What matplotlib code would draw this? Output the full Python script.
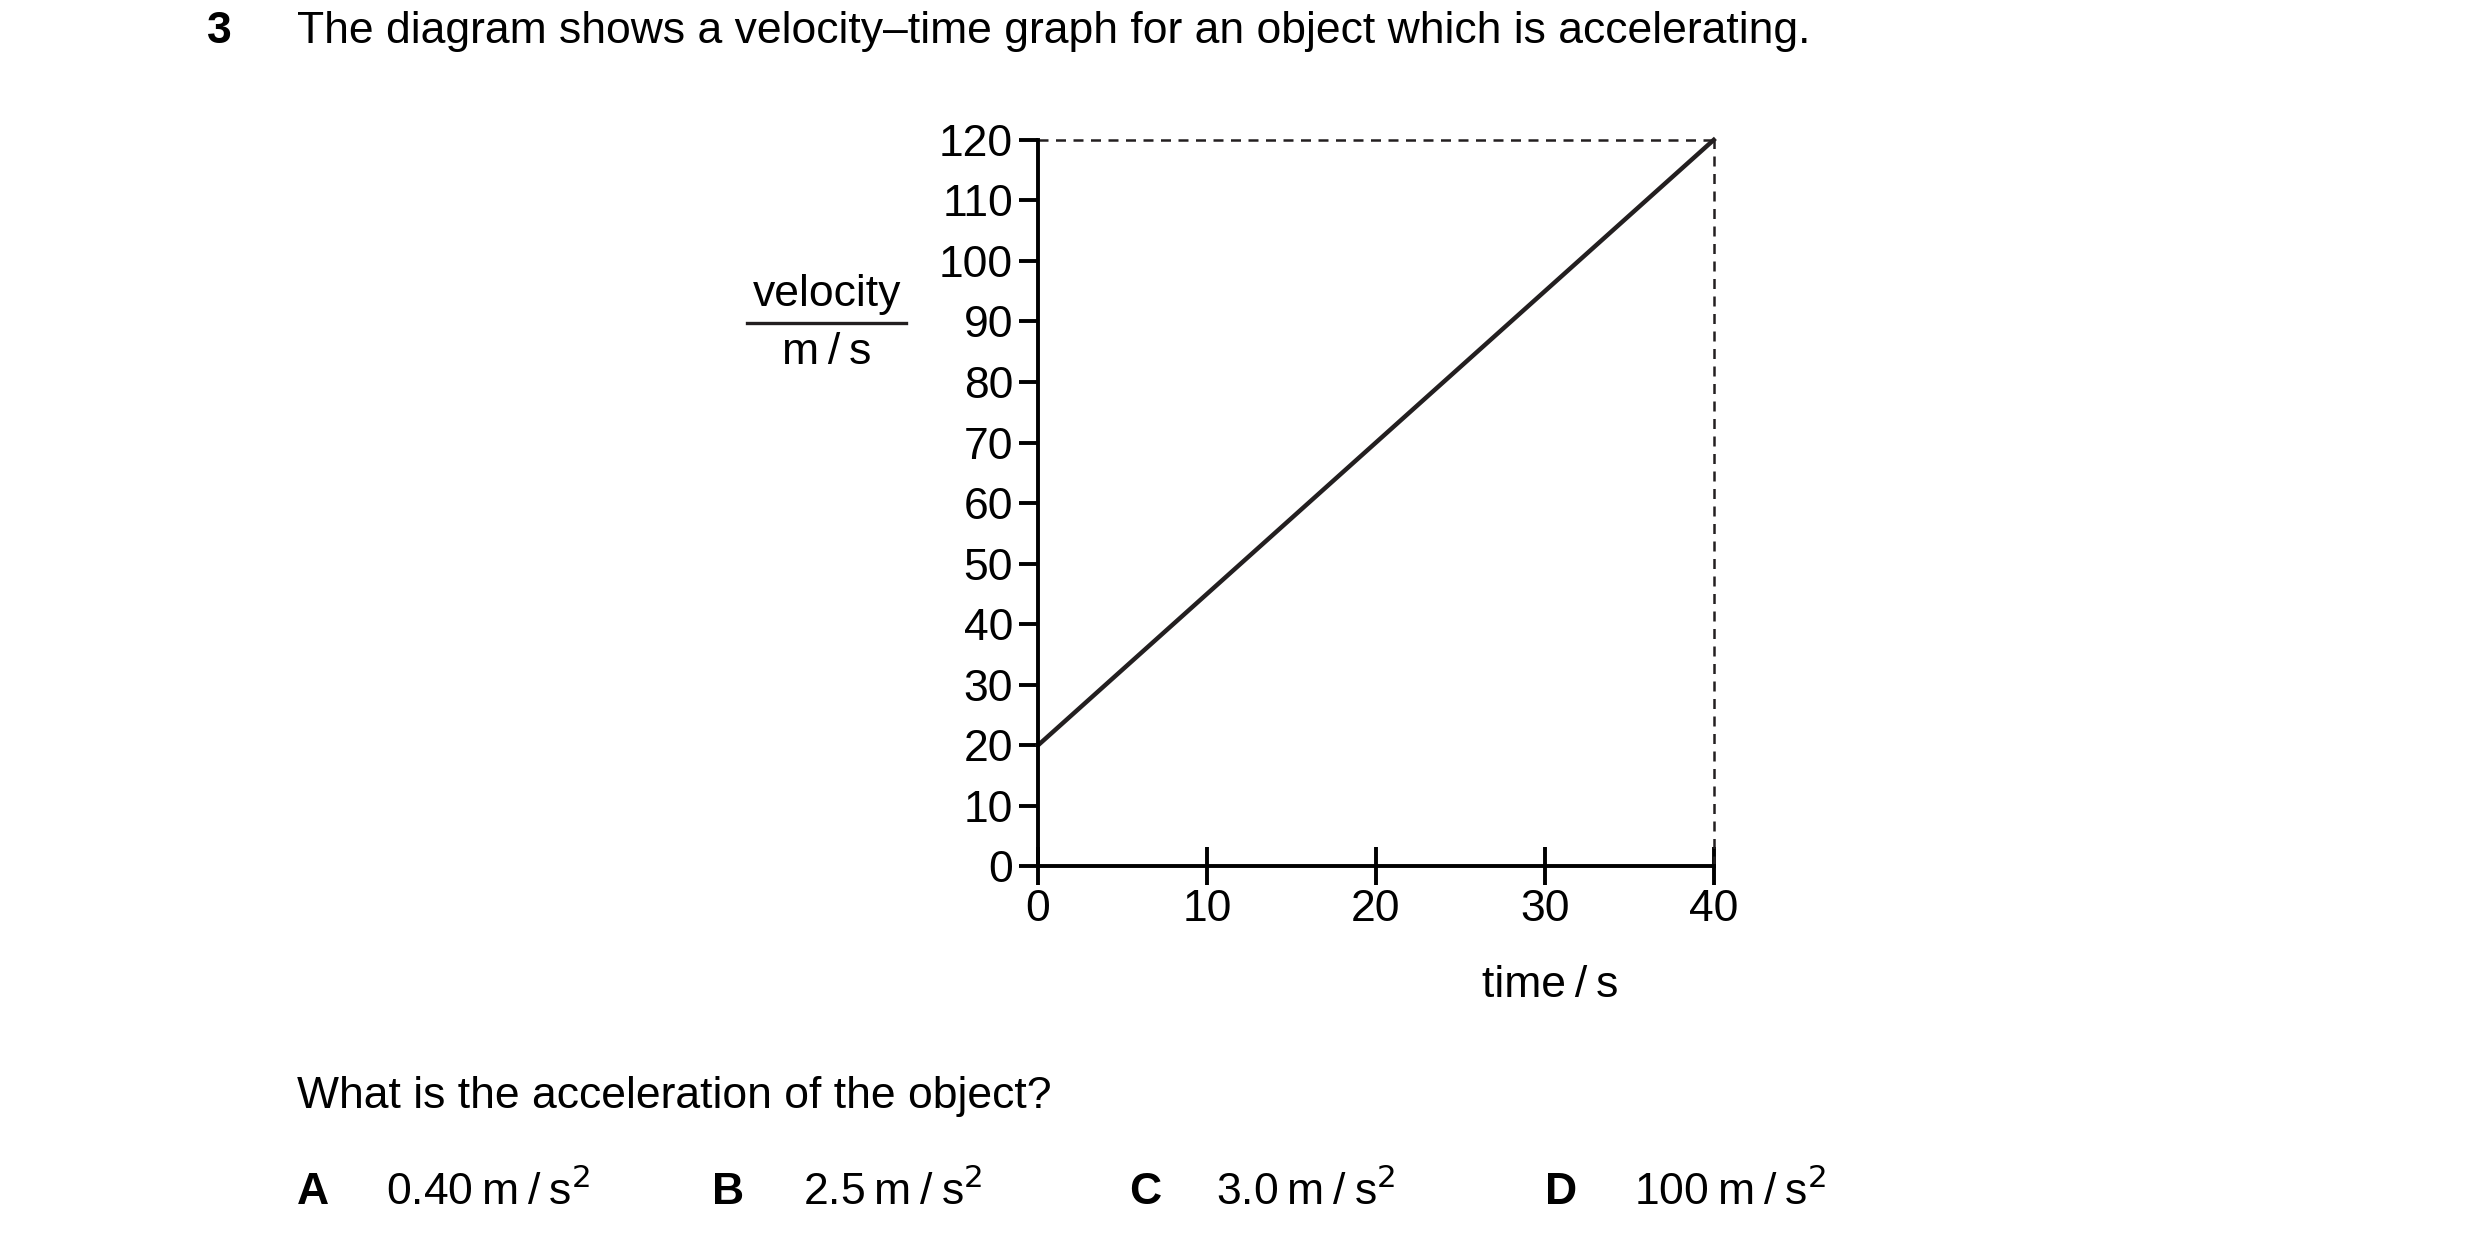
import matplotlib.pyplot as plt
from matplotlib.lines import Line2D

plt.rcParams['font.family'] = ['Liberation Sans', 'DejaVu Sans']

time = [0, 40]
velocity = [20, 120]
x_ticks = [0, 10, 20, 30, 40]
y_ticks = list(range(0, 121, 10))

W, H = 1560, 782
fs = 16
fig = plt.figure(figsize=(12.4, 6.215), dpi=200)
ax = fig.add_axes([653 / W, 1 - 545 / H, (1078 - 653) / W, (545 - 88) / H])
ax.plot(time, velocity, color='#231f20', lw=1.6, clip_on=False)
ax.plot([0, 40], [120, 120], color='#231f20', lw=0.9, ls=(0, (4, 3)), clip_on=False)
ax.plot([40, 40], [0, 120], color='#231f20', lw=0.9, ls=(0, (4, 3)), clip_on=False)
ax.set_xlim(0, 40)
ax.set_ylim(0, 120)
ax.set_xticks(x_ticks)
ax.set_yticks(y_ticks)
for s in ['top', 'right']:
    ax.spines[s].set_visible(False)
for s in ['left', 'bottom']:
    ax.spines[s].set_linewidth(1.4)
ax.tick_params(axis='y', direction='out', length=7, width=1.4, labelsize=fs, pad=2)
ax.tick_params(axis='x', direction='inout', length=14, width=1.4, labelsize=fs, pad=1)

def t(x, y, s, **kw):
    fig.text(x / W, 1 - y / H, s, va='center', fontsize=fs, **kw)

th = '\u2009'
t(130, 20, '3', fontweight='bold')
t(187, 20, 'The diagram shows a velocity\u2013time graph for an object which is accelerating.')
t(520, 185, 'velocity', ha='center')
t(520, 222, 'm' + th + '/' + th + 's', ha='center')
fig.add_artist(Line2D([470 / W, 570 / W], [1 - 203 / H, 1 - 203 / H], color='#231f20', lw=1.2))
t(975, 620, 'time' + th + '/' + th + 's', ha='center')
t(187, 690, 'What is the acceleration of the object?')
opts = [('A', '0.40', 187, 243), ('B', '2.5', 448, 505), ('C', '3.0', 710, 765), ('D', '100', 972, 1028)]
for letter, val, lx, vx in opts:
    t(lx, 750, letter, fontweight='bold')
    t(vx, 750, val + th + 'm' + th + '/' + th + r's$^{2}$')

fig.savefig('out.png')
